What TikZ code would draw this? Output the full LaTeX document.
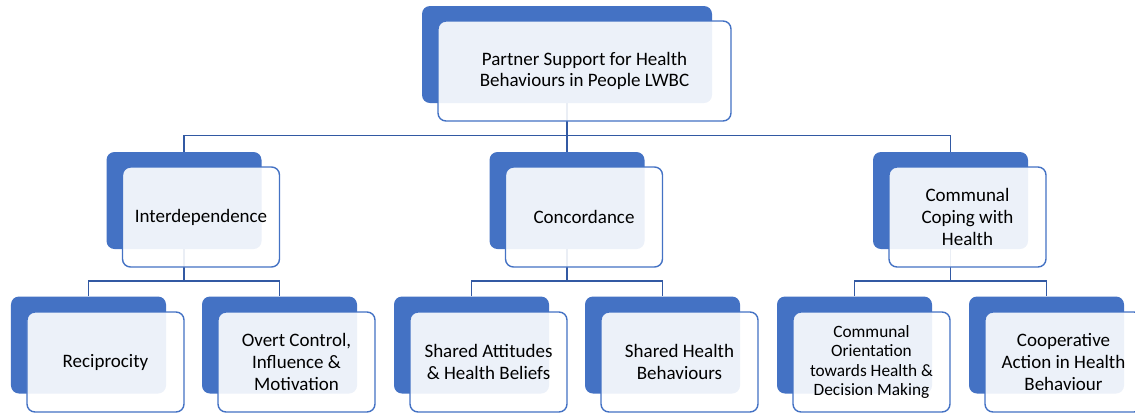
\documentclass[tikz,border=0pt]{standalone}
\usepackage{fontspec}
\setmainfont{Carlito}

\definecolor{boxblue}{HTML}{4472C4}
\definecolor{linkblue}{HTML}{3259A3}

\tikzset{
  backbox/.style={fill=boxblue, rounded corners=8bp, minimum width=155bp,
    minimum height=97bp, inner sep=0pt},
  frontbox/.style={draw=boxblue, line width=1.4bp, fill=white, fill opacity=0.9,
    text opacity=1, rounded corners=8bp, minimum width=157bp, minimum height=100bp,
    inner sep=0pt, align=center, font=\fontsize{19bp}{21.7bp}\selectfont},
  smalltext/.style={font=\fontsize{17.3bp}{19.4bp}\selectfont},
  link/.style={draw=linkblue, line width=1.8bp},
}

\begin{document}
\begin{tikzpicture}[x=1bp, y=-1bp]
        \useasboundingbox (0,0) rectangle (1135,414);

        % Back boxes
        \node[backbox, minimum width=290bp] (top-b) at (567,54.5) {};
        \foreach \n/\x in {inter/184, conc/567, comm/950.5}{
            \node[backbox] (\n-b) at (\x,200.5) {};
        }
        \foreach \n/\x in {recip/88.5, overt/279.5, attit/471.5, behav/662.5, orient/854.5, coop/1046.5}{
            \node[backbox] (\n-b) at (\x,345) {};
        }

        % Connectors
        \coordinate (bus0) at (567,135.5);
        \draw[link] (top-b.south) -- (bus0);
        \draw[link] (inter-b.north) |- (bus0) -| (comm-b.north);
        \draw[link] (bus0) -- (conc-b.north);

        \foreach \p/\a/\b in {inter/recip/overt, conc/attit/behav, comm/orient/coop}{
            \coordinate (\p-bus) at ([yshift=-31.5bp]\p-b.south);
            \draw[link] (\p-b.south) -- (\p-bus);
            \draw[link] (\a-b.north) |- (\p-bus) -| (\b-b.north);
        }

        % Front boxes with labels
        \node[frontbox, minimum width=293bp] (top) at ([shift={(17.5,16.5)}]top-b.center)
            {Partner Support for Health\\Behaviours in People LWBC};
        \node[frontbox] (inter) at ([shift={(17,16.5)}]inter-b.center) {Interdependence};
        \node[frontbox] (conc) at ([shift={(17,16.5)}]conc-b.center) {Concordance};
        \node[frontbox] (comm) at ([shift={(17,16.5)}]comm-b.center) {Communal\\Coping with\\Health};

        \node[frontbox] (recip) at ([shift={(17,17)}]recip-b.center) {Reciprocity};
        \node[frontbox] (overt) at ([shift={(17,17)}]overt-b.center) {Overt Control,\\Influence \&\\Motivation};
        \node[frontbox] (attit) at ([shift={(17,17)}]attit-b.center) {Shared Attitudes\\\& Health Beliefs};
        \node[frontbox] (behav) at ([shift={(17,17)}]behav-b.center) {Shared Health\\Behaviours};
        \node[frontbox, smalltext] (orient) at ([shift={(17,17)}]orient-b.center)
            {Communal\\Orientation\\towards Health \&\\Decision Making};
        \node[frontbox] (coop) at ([shift={(17,17)}]coop-b.center) {Cooperative\\Action in Health\\Behaviour};
\end{tikzpicture}
\end{document}
